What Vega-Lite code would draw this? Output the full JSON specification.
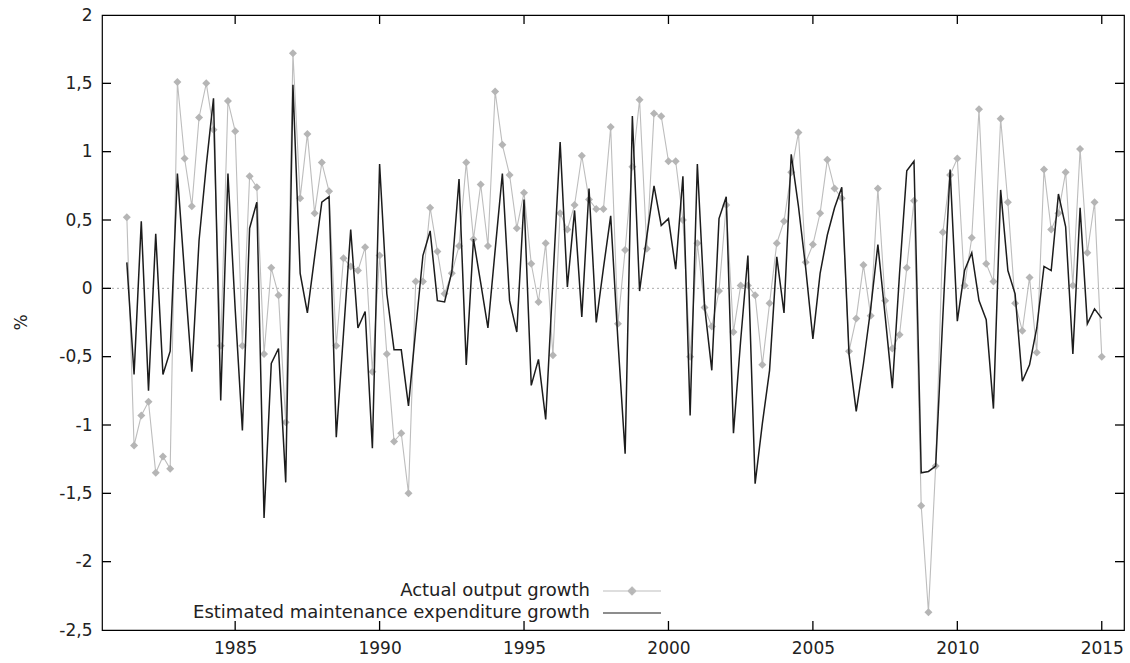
{
  "$schema": "https://vega.github.io/schema/vega-lite/v6.json",
  "width": 1022,
  "height": 615,
  "autosize": {"type": "none"},
  "padding": {"left": 102, "top": 15, "right": 6, "bottom": 33},
  "background": "white",
  "config": {
    "view": {"stroke": "#000", "strokeWidth": 1.2},
    "font": "DejaVu Sans",
    "axis": {
      "grid": false, "domain": false, "ticks": false,
      "labelFont": "DejaVu Sans", "labelFontSize": 17, "labelColor": "#222",
      "titleFont": "DejaVu Sans", "titleFontWeight": "normal", "titleColor": "#222", "titleFontSize": 17
    }
  },
  "data": {"values": [
    {"t":1981.25,"A":0.52,"E":0.19},{"t":1981.5,"A":-1.15,"E":-0.63},{"t":1981.75,"A":-0.93,"E":0.49},{"t":1982,"A":-0.83,"E":-0.75},
    {"t":1982.25,"A":-1.35,"E":0.40},{"t":1982.5,"A":-1.23,"E":-0.63},{"t":1982.75,"A":-1.32,"E":-0.46},{"t":1983,"A":1.51,"E":0.84},
    {"t":1983.25,"A":0.95,"E":0.10},{"t":1983.5,"A":0.60,"E":-0.61},{"t":1983.75,"A":1.25,"E":0.35},{"t":1984,"A":1.50,"E":0.90},
    {"t":1984.25,"A":1.16,"E":1.39},{"t":1984.5,"A":-0.42,"E":-0.82},{"t":1984.75,"A":1.37,"E":0.84},{"t":1985,"A":1.15,"E":-0.15},
    {"t":1985.25,"A":-0.42,"E":-1.04},{"t":1985.5,"A":0.82,"E":0.44},{"t":1985.75,"A":0.74,"E":0.63},{"t":1986,"A":-0.48,"E":-1.68},
    {"t":1986.25,"A":0.15,"E":-0.55},{"t":1986.5,"A":-0.05,"E":-0.44},{"t":1986.75,"A":-0.98,"E":-1.42},{"t":1987,"A":1.72,"E":1.49},
    {"t":1987.25,"A":0.66,"E":0.11},{"t":1987.5,"A":1.13,"E":-0.18},{"t":1987.75,"A":0.55,"E":0.23},{"t":1988,"A":0.92,"E":0.63},
    {"t":1988.25,"A":0.71,"E":0.67},{"t":1988.5,"A":-0.42,"E":-1.09},{"t":1988.75,"A":0.22,"E":-0.33},{"t":1989,"A":0.16,"E":0.43},
    {"t":1989.25,"A":0.13,"E":-0.29},{"t":1989.5,"A":0.30,"E":-0.17},{"t":1989.75,"A":-0.61,"E":-1.17},{"t":1990,"A":0.24,"E":0.91},
    {"t":1990.25,"A":-0.48,"E":-0.04},{"t":1990.5,"A":-1.12,"E":-0.45},{"t":1990.75,"A":-1.06,"E":-0.45},{"t":1991,"A":-1.50,"E":-0.86},
    {"t":1991.25,"A":0.05,"E":-0.30},{"t":1991.5,"A":0.05,"E":0.24},{"t":1991.75,"A":0.59,"E":0.42},{"t":1992,"A":0.27,"E":-0.09},
    {"t":1992.25,"A":-0.04,"E":-0.10},{"t":1992.5,"A":0.11,"E":0.12},{"t":1992.75,"A":0.31,"E":0.80},{"t":1993,"A":0.92,"E":-0.56},
    {"t":1993.25,"A":0.36,"E":0.36},{"t":1993.5,"A":0.76,"E":0.04},{"t":1993.75,"A":0.31,"E":-0.29},{"t":1994,"A":1.44,"E":0.28},
    {"t":1994.25,"A":1.05,"E":0.84},{"t":1994.5,"A":0.83,"E":-0.09},{"t":1994.75,"A":0.44,"E":-0.32},{"t":1995,"A":0.70,"E":0.65},
    {"t":1995.25,"A":0.18,"E":-0.71},{"t":1995.5,"A":-0.10,"E":-0.52},{"t":1995.75,"A":0.33,"E":-0.96},{"t":1996,"A":-0.49,"E":0.06},
    {"t":1996.25,"A":0.55,"E":1.07},{"t":1996.5,"A":0.43,"E":0.01},{"t":1996.75,"A":0.61,"E":0.57},{"t":1997,"A":0.97,"E":-0.21},
    {"t":1997.25,"A":0.65,"E":0.73},{"t":1997.5,"A":0.58,"E":-0.25},{"t":1997.75,"A":0.58,"E":0.15},{"t":1998,"A":1.18,"E":0.53},
    {"t":1998.25,"A":-0.26,"E":-0.38},{"t":1998.5,"A":0.28,"E":-1.21},{"t":1998.75,"A":0.89,"E":1.26},{"t":1999,"A":1.38,"E":-0.02},
    {"t":1999.25,"A":0.29,"E":0.38},{"t":1999.5,"A":1.28,"E":0.75},{"t":1999.75,"A":1.26,"E":0.46},{"t":2000,"A":0.93,"E":0.51},
    {"t":2000.25,"A":0.93,"E":0.14},{"t":2000.5,"A":0.50,"E":0.82},{"t":2000.75,"A":-0.50,"E":-0.93},{"t":2001,"A":0.33,"E":0.91},
    {"t":2001.25,"A":-0.14,"E":-0.13},{"t":2001.5,"A":-0.28,"E":-0.60},{"t":2001.75,"A":-0.02,"E":0.51},{"t":2002,"A":0.61,"E":0.67},
    {"t":2002.25,"A":-0.32,"E":-1.06},{"t":2002.5,"A":0.02,"E":-0.38},{"t":2002.75,"A":0.02,"E":0.24},{"t":2003,"A":-0.05,"E":-1.43},
    {"t":2003.25,"A":-0.56,"E":-0.99},{"t":2003.5,"A":-0.11,"E":-0.60},{"t":2003.75,"A":0.33,"E":0.23},{"t":2004,"A":0.49,"E":-0.18},
    {"t":2004.25,"A":0.85,"E":0.98},{"t":2004.5,"A":1.14,"E":0.60},{"t":2004.75,"A":0.19,"E":0.15},{"t":2005,"A":0.32,"E":-0.37},
    {"t":2005.25,"A":0.55,"E":0.11},{"t":2005.5,"A":0.94,"E":0.39},{"t":2005.75,"A":0.73,"E":0.59},{"t":2006,"A":0.66,"E":0.74},
    {"t":2006.25,"A":-0.46,"E":-0.48},{"t":2006.5,"A":-0.22,"E":-0.90},{"t":2006.75,"A":0.17,"E":-0.55},{"t":2007,"A":-0.20,"E":-0.15},
    {"t":2007.25,"A":0.73,"E":0.32},{"t":2007.5,"A":-0.09,"E":-0.20},{"t":2007.75,"A":-0.44,"E":-0.73},{"t":2008,"A":-0.34,"E":0.11},
    {"t":2008.25,"A":0.15,"E":0.86},{"t":2008.5,"A":0.64,"E":0.93},{"t":2008.75,"A":-1.59,"E":-1.35},{"t":2009,"A":-2.37,"E":-1.34},
    {"t":2009.25,"A":-1.30,"E":-1.30},{"t":2009.5,"A":0.41,"E":-0.20},{"t":2009.75,"A":0.83,"E":0.87},{"t":2010,"A":0.95,"E":-0.24},
    {"t":2010.25,"A":0.02,"E":0.13},{"t":2010.5,"A":0.37,"E":0.26},{"t":2010.75,"A":1.31,"E":-0.09},{"t":2011,"A":0.18,"E":-0.23},
    {"t":2011.25,"A":0.05,"E":-0.88},{"t":2011.5,"A":1.24,"E":0.72},{"t":2011.75,"A":0.63,"E":0.13},{"t":2012,"A":-0.11,"E":-0.04},
    {"t":2012.25,"A":-0.31,"E":-0.68},{"t":2012.5,"A":0.08,"E":-0.56},{"t":2012.75,"A":-0.47,"E":-0.29},{"t":2013,"A":0.87,"E":0.16},
    {"t":2013.25,"A":0.43,"E":0.13},{"t":2013.5,"A":0.55,"E":0.69},{"t":2013.75,"A":0.85,"E":0.45},{"t":2014,"A":0.02,"E":-0.48},
    {"t":2014.25,"A":1.02,"E":0.59},{"t":2014.5,"A":0.26,"E":-0.26},{"t":2014.75,"A":0.63,"E":-0.15},{"t":2015,"A":-0.50,"E":-0.22}
  ]},
  "transform": [{"fold": ["A", "E"], "as": ["s", "v"]}],
  "layer": [
    {
      "data": {"values": [{"z": 0}]},
      "mark": {"type": "rule", "strokeDash": [2, 3], "color": "#aaaaaa", "strokeWidth": 1},
      "encoding": {
        "y": {"field": "z", "type": "quantitative", "scale": {"domain": [-2.5, 2], "nice": false, "zero": false}}
      }
    },
    {
      "transform": [{"filter": "datum.s == 'A'"}],
      "mark": {"type": "line", "strokeWidth": 1.1},
      "encoding": {
        "x": {"field": "t", "type": "quantitative", "scale": {"domain": [1980.39, 2015.77], "nice": false, "zero": false},
              "axis": {"orient": "bottom", "title": null, "values": [1985, 1990, 1995, 2000, 2005, 2010, 2015], "format": "d", "labelPadding": 10}},
        "y": {"field": "v", "type": "quantitative", "scale": {"domain": [-2.5, 2], "nice": false, "zero": false},
              "axis": {"orient": "left", "title": "%", "titleX": -72, "titleY": 307, "values": [-2.5, -2, -1.5, -1, -0.5, 0, 0.5, 1, 1.5, 2],
                       "labelExpr": "replace(toString(datum.value), '.', ',')", "labelPadding": 10}},
        "color": {"field": "s", "type": "nominal",
                  "scale": {"domain": ["A", "E"], "range": ["#bdbdbd", "#1c1c1c"]},
                  "legend": {
                    "orient": "none", "legendX": 519, "legendY": 565, "title": null, "padding": 0,
                    "labelExpr": "datum.label == 'A' ? 'Actual output growth' : 'Estimated maintenance expenditure growth'",
                    "labelFont": "DejaVu Sans", "labelFontSize": 18, "labelColor": "#222", "labelLimit": 800,
                    "symbolSize": 400, "rowPadding": 2, "symbolStrokeWidth": 1.2,
                    "encode": {
                      "symbols": {"update": {
                        "shape": {"signal": "datum.value == 'A' ? 'M-2.9,0H2.9M0,-0.4L0.4,0L0,0.4L-0.4,0Z' : 'M-2.9,0H2.9'"},
                        "fill": {"signal": "datum.value == 'A' ? '#b5b5b5' : 'transparent'"},
                        "stroke": {"signal": "datum.value == 'A' ? '#bdbdbd' : '#1c1c1c'"}
                      }},
                      "labels": {"update": {"align": {"value": "right"}, "x": {"value": -31}}}
                    }
                  }}
      }
    },
    {
      "transform": [{"filter": "datum.s == 'A'"}],
      "mark": {"type": "point", "shape": "diamond", "filled": true, "size": 64, "color": "#b5b5b5", "opacity": 1},
      "encoding": {
        "x": {"field": "t", "type": "quantitative"},
        "y": {"field": "v", "type": "quantitative"}
      }
    },
    {
      "transform": [{"filter": "datum.s == 'E'"}],
      "mark": {"type": "line", "strokeWidth": 1.5},
      "encoding": {
        "x": {"field": "t", "type": "quantitative"},
        "y": {"field": "v", "type": "quantitative"},
        "color": {"field": "s", "type": "nominal"}
      }
    },
    {
      "data": {"values": [
        {"t": 1985, "v": -2.5}, {"t": 1990, "v": -2.5}, {"t": 1995, "v": -2.5}, {"t": 2000, "v": -2.5},
        {"t": 2005, "v": -2.5}, {"t": 2010, "v": -2.5}, {"t": 2015, "v": -2.5}
      ]},
      "mark": {"type": "tick", "orient": "vertical", "color": "#000", "thickness": 1.3, "size": 9, "yOffset": -4.5, "opacity": 1},
      "encoding": {
        "x": {"field": "t", "type": "quantitative"},
        "y": {"field": "v", "type": "quantitative"}
      }
    },
    {
      "data": {"values": [
        {"t": 1985, "v": 2}, {"t": 1990, "v": 2}, {"t": 1995, "v": 2}, {"t": 2000, "v": 2},
        {"t": 2005, "v": 2}, {"t": 2010, "v": 2}, {"t": 2015, "v": 2}
      ]},
      "mark": {"type": "tick", "orient": "vertical", "color": "#000", "thickness": 1.3, "size": 9, "yOffset": 4.5, "opacity": 1},
      "encoding": {
        "x": {"field": "t", "type": "quantitative"},
        "y": {"field": "v", "type": "quantitative"}
      }
    },
    {
      "data": {"values": [
        {"t": 1980.39, "v": -2}, {"t": 1980.39, "v": -1.5}, {"t": 1980.39, "v": -1}, {"t": 1980.39, "v": -0.5},
        {"t": 1980.39, "v": 0}, {"t": 1980.39, "v": 0.5}, {"t": 1980.39, "v": 1}, {"t": 1980.39, "v": 1.5}
      ]},
      "mark": {"type": "tick", "orient": "horizontal", "color": "#000", "thickness": 1.3, "size": 9, "xOffset": 4.5, "opacity": 1},
      "encoding": {
        "x": {"field": "t", "type": "quantitative"},
        "y": {"field": "v", "type": "quantitative"}
      }
    },
    {
      "data": {"values": [
        {"t": 2015.77, "v": -2}, {"t": 2015.77, "v": -1.5}, {"t": 2015.77, "v": -1}, {"t": 2015.77, "v": -0.5},
        {"t": 2015.77, "v": 0}, {"t": 2015.77, "v": 0.5}, {"t": 2015.77, "v": 1}, {"t": 2015.77, "v": 1.5}
      ]},
      "mark": {"type": "tick", "orient": "horizontal", "color": "#000", "thickness": 1.3, "size": 9, "xOffset": -4.5, "opacity": 1},
      "encoding": {
        "x": {"field": "t", "type": "quantitative"},
        "y": {"field": "v", "type": "quantitative"}
      }
    }
  ]
}
